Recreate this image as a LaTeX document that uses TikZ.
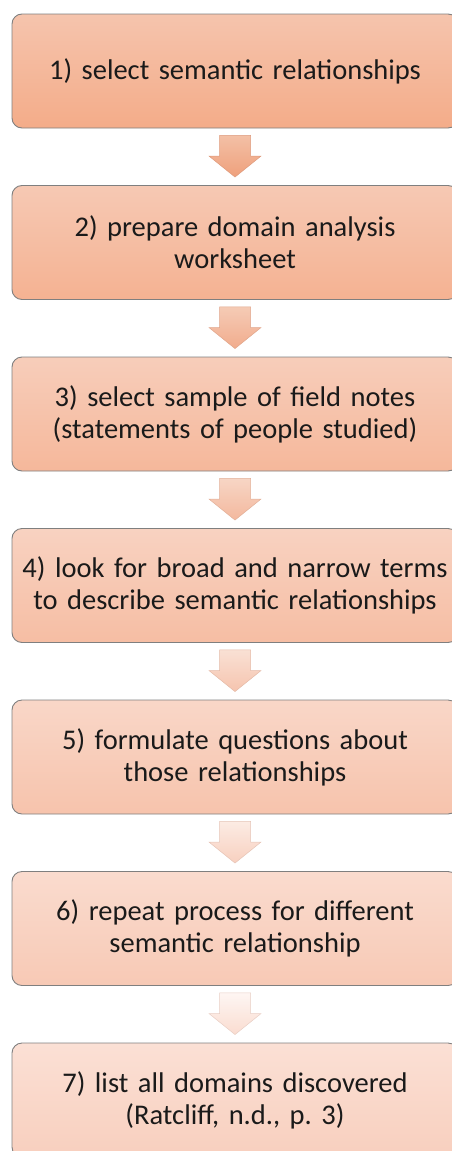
\documentclass[tikz,border=0pt]{standalone}
\usepackage{fontspec}
\setmainfont{Carlito}
\frenchspacing
\usetikzlibrary{calc}
\definecolor{topA}{HTML}{F5C4AD}
\definecolor{botA}{HTML}{F4AC89}
\definecolor{topZ}{HTML}{FBE0D5}
\definecolor{botZ}{HTML}{F8CFBE}
\definecolor{arrTopA}{HTML}{F3C0A6}
\definecolor{arrBotA}{HTML}{EFA07C}
\definecolor{arrTopZ}{HTML}{FEF6F3}
\definecolor{arrBotZ}{HTML}{FADCD0}
\definecolor{edge}{HTML}{7F7F7F}
\definecolor{ink}{HTML}{1A1A1A}
\tikzset{
  x=1pt, y=-1pt,
  stepbox/.style={rounded corners=10pt, draw=edge, line width=0.9pt,
    minimum width=446pt, minimum height=114pt, text width=440pt,
    align=center, inner sep=0pt, text=ink,
    font=\fontsize{28.5}{32}\selectfont},
}
\begin{document}
\begin{tikzpicture}
\useasboundingbox (0,0) rectangle (452,1151);
\clip (0,0) rectangle (452,1151);
% step boxes, each shaded slightly lighter than the one before
\foreach \i/\t in {1/{1) select semantic relationships},
                   2/{2) prepare domain analysis\\worksheet},
                   3/{3) select sample of field notes\\(statements of people studied)},
                   4/{4) look for broad and narrow terms\\to describe semantic relationships},
                   5/{5) formulate questions about\\those relationships},
                   6/{6) repeat process for different\\semantic relationship},
                   7/{7) list all domains discovered\\(Ratcliff, n.d., p. 3)}} {
  \pgfmathsetmacro{\k}{(\i-1)/6*100}
  \colorlet{ctop}{topZ!\k!topA}
  \colorlet{cbot}{botZ!\k!botA}
  \node[stepbox, top color=ctop, bottom color=cbot]
    (b\i) at (235, {71+(\i-1)*171.5}) {\t};
}
% block arrows between consecutive steps
\foreach \i [evaluate=\i as \j using int(\i+1)] in {1,...,6} {
  \pgfmathsetmacro{\k}{(\i-1)/5*100}
  \colorlet{atop}{arrTopZ!\k!arrTopA}
  \colorlet{abot}{arrBotZ!\k!arrBotA}
  \coordinate (s\i) at ($(b\i.south)+(0,7)$);
  \coordinate (e\i) at ($(b\j.north)+(0,-8)$);
  \shade[top color=atop, bottom color=abot, draw=abot!85!gray, line width=0.5pt]
    ($(s\i)+(-15.5,0)$) -- ($(s\i)+(15.5,0)$) -- ($(e\i)+(15.5,-21)$)
    -- ($(e\i)+(26,-21)$) -- (e\i) -- ($(e\i)+(-26,-21)$)
    -- ($(e\i)+(-15.5,-21)$) -- cycle;
}
\end{tikzpicture}
\end{document}
